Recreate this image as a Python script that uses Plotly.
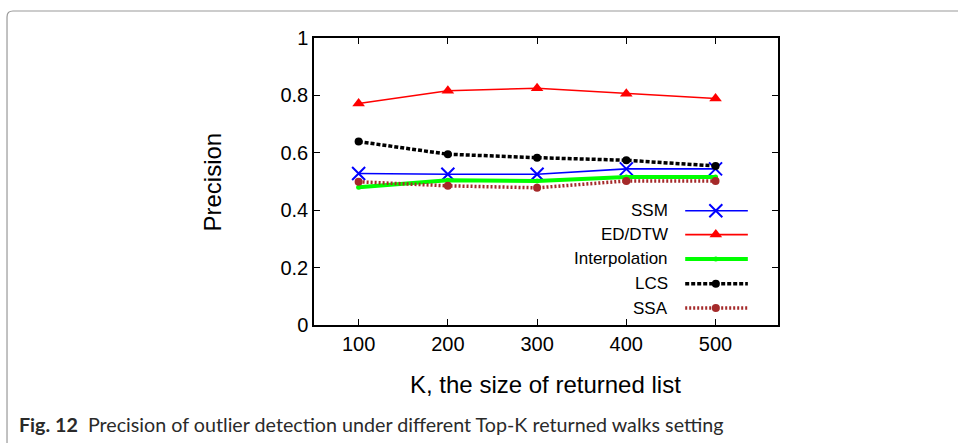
import plotly.graph_objects as go

# Top-K sizes and precision per method
k_values = [100, 200, 300, 400, 500]
ssm = [0.528, 0.525, 0.525, 0.544, 0.544]
ed_dtw = [0.772, 0.816, 0.825, 0.806, 0.789]
interpolation = [0.480, 0.504, 0.502, 0.516, 0.516]
lcs = [0.639, 0.595, 0.583, 0.574, 0.554]
ssa = [0.499, 0.485, 0.478, 0.502, 0.502]

y_ticks = [0, 0.2, 0.4, 0.6, 0.8, 1]
y_tick_text = ["0", "0.2", "0.4", "0.6", "0.8", "1"]

series = [
    dict(name="SSM", y=ssm, line=dict(color="#0000ff", width=1.6),
         marker=dict(symbol="x-thin-open", size=13, color="#0000ff",
                     line=dict(color="#0000ff", width=2))),
    dict(name="ED/DTW", y=ed_dtw, line=dict(color="#ff0000", width=1.6),
         marker=dict(symbol="triangle-up", size=11, color="#ff0000")),
    dict(name="Interpolation", y=interpolation, line=dict(color="#00ff00", width=4),
         marker=dict(symbol="circle", size=5, color="#00ff00")),
    dict(name="LCS", y=lcs, line=dict(color="#000000", width=3.5, dash="4px,2px"),
         marker=dict(symbol="circle", size=8, color="#000000")),
    dict(name="SSA", y=ssa, line=dict(color="#a52a2a", width=3.5, dash="2px,2px"),
         marker=dict(symbol="circle", size=8, color="#a52a2a")),
]

fig = go.Figure()
for s in series:
    fig.add_trace(go.Scatter(x=k_values, y=s["y"], mode="lines+markers",
                             name=s["name"], line=s["line"], marker=s["marker"],
                             showlegend=False))

# Hand-built key in the lower right of the plot, on an overlay axis in [0, 1]
key_rows = [0.398, 0.315, 0.230, 0.144, 0.059]
key_x0, key_x1, key_mid, key_text_x = 0.80, 0.935, 0.866, 0.767
for s, yr in zip(series, key_rows):
    fig.add_trace(go.Scatter(x=[key_x0, key_x1], y=[yr, yr], mode="lines",
                             line=s["line"], xaxis="x2", yaxis="y2",
                             showlegend=False, hoverinfo="skip"))
    fig.add_trace(go.Scatter(x=[key_mid], y=[yr], mode="markers",
                             marker=s["marker"], xaxis="x2", yaxis="y2",
                             showlegend=False, hoverinfo="skip"))
    fig.add_annotation(x=key_text_x, y=yr, xref="paper", yref="paper",
                       text=s["name"], showarrow=False, xanchor="right",
                       yanchor="middle",
                       font=dict(family="Liberation Sans", size=17, color="#000"))

axis_common = dict(showgrid=False, zeroline=False, showline=True, mirror="ticks",
                   linecolor="#000", linewidth=1.5, ticks="inside", ticklen=6,
                   tickcolor="#000", tickwidth=1,
                   tickfont=dict(family="Liberation Sans", size=20, color="#000"))

fig.update_layout(
    width=958, height=443,
    margin=dict(l=314, r=180, t=38, b=118),
    paper_bgcolor="#fff", plot_bgcolor="#fff",
    xaxis=dict(range=[50, 570], tickvals=k_values, **axis_common),
    yaxis=dict(range=[0, 1], tickvals=y_ticks, ticktext=y_tick_text, **axis_common),
    xaxis2=dict(range=[0, 1], overlaying="x", visible=False, fixedrange=True),
    yaxis2=dict(range=[0, 1], overlaying="y", visible=False, fixedrange=True),
)

fig.add_annotation(x=-0.2177, y=0.5, xref="paper", yref="paper", text="Precision",
                   textangle=-90, showarrow=False, xanchor="center", yanchor="middle",
                   font=dict(family="Liberation Sans", size=24, color="#000"))
fig.add_annotation(x=0.498, y=-0.2056, xref="paper", yref="paper",
                   text="K, the size of returned list", showarrow=False,
                   xanchor="center", yanchor="middle",
                   font=dict(family="Liberation Sans", size=24, color="#000"))

# Figure caption
fig.add_annotation(x=-0.640, y=-0.348, xref="paper", yref="paper",
                   text="<b>Fig. 12</b>  Precision of outlier detection under different Top-K returned walks setting",
                   showarrow=False, xanchor="left", yanchor="middle",
                   font=dict(family="Lato", size=19.7, color="#2a2a2a"))

# Frame around the figure, rounded at the top-left corner
fig.add_shape(type="path", xref="paper", yref="paper",
              path="M -0.6616,-0.45 L -0.6616,1.073 Q -0.6616,1.094 -0.6487,1.094 L 1.45,1.094",
              line=dict(color="#999", width=1.2))

fig.write_html("out.html")
